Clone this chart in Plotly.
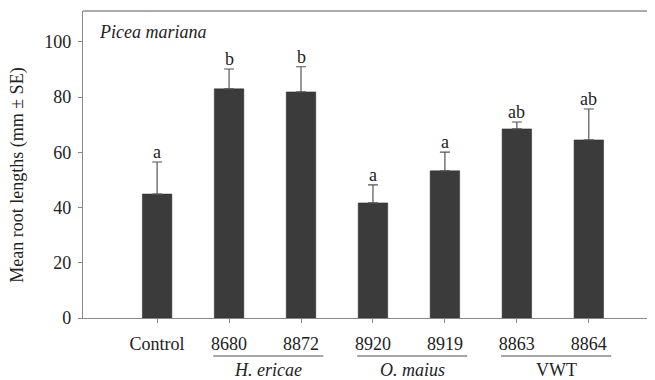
import plotly.graph_objects as go

categories = ["Control", "8680", "8872", "8920", "8919", "8863", "8864"]
means = [44.9, 83.0, 81.9, 41.7, 53.3, 68.5, 64.5]
se = [11.6, 7.2, 9.1, 6.5, 6.8, 2.5, 11.2]
letters = ["a", "b", "b", "a", "a", "ab", "ab"]
groups = [("<i>H. ericae</i>", 1, 2), ("<i>O. maius</i>", 3, 4), ("VWT", 5, 6)]
y_ticks = [0, 20, 40, 60, 80, 100]

FONT = "Liberation Serif, Times New Roman, serif"
FS = 18
x_idx = list(range(len(categories)))

fig = go.Figure()
fig.add_trace(go.Bar(
    x=x_idx, y=means, width=0.41,
    marker=dict(color="#3b3b3b", line=dict(color="#2a2a2a", width=0.5)),
    error_y=dict(type="data", symmetric=False, array=se, arrayminus=[0] * len(se),
                 color="#555555", thickness=1.2, width=5),
    showlegend=False,
))

annotations = []
for i, (m, s, l) in enumerate(zip(means, se, letters)):
    annotations.append(dict(x=i, y=m + s, text=l, showarrow=False, yshift=10,
                            xanchor="center", yanchor="middle",
                            font=dict(family=FONT, size=FS, color="#222")))

shapes = []
for name, a, b in groups:
    shapes.append(dict(type="line", xref="x", yref="paper", x0=a - 0.22, x1=b + 0.31,
                       y0=-0.124, y1=-0.124, line=dict(color="#888", width=1.5)))
    annotations.append(dict(x=(a + b) / 2 + 0.045, xref="x", y=-0.17, yref="paper", text=name,
                            showarrow=False, xanchor="center", yanchor="middle",
                            font=dict(family=FONT, size=FS, color="#222")))

annotations.append(dict(x=0.024, xref="paper", y=0.93, yref="paper", xanchor="left", yanchor="middle",
                        text="<i>Picea mariana</i>", showarrow=False,
                        font=dict(family=FONT, size=FS, color="#222")))
annotations.append(dict(x=-0.114, xref="paper", y=0.466, yref="paper", textangle=-90,
                        xanchor="center", yanchor="middle",
                        text="Mean root lengths (mm ± SE)", showarrow=False,
                        font=dict(family=FONT, size=FS, color="#222")))

# top frame line
shapes.append(dict(type="line", xref="paper", yref="paper", x0=0, x1=1, y0=1, y1=1,
                   line=dict(color="#aaaaaa", width=2)))

# page body has an 8px margin, so the figure is sized to fill the rest of the window
fig.update_layout(
    width=647, height=372,
    margin=dict(l=75, r=0, t=3, b=62),
    paper_bgcolor="white", plot_bgcolor="white",
    font=dict(family=FONT, size=FS, color="#222"),
    annotations=annotations, shapes=shapes,
    xaxis=dict(range=[-1.03, 6.92], tickvals=x_idx, ticktext=categories,
               showline=True, linecolor="#888", linewidth=1.2,
               ticks="outside", ticklen=4, tickcolor="#888", ticklabelstandoff=5,
               showgrid=False, zeroline=False),
    yaxis=dict(range=[0, 111.2], tickvals=y_ticks,
               showline=True, linecolor="#888", linewidth=1.2,
               ticks="outside", ticklen=4, tickcolor="#888", ticklabelstandoff=3,
               showgrid=False, zeroline=False),
)

fig.write_html("out.html")
